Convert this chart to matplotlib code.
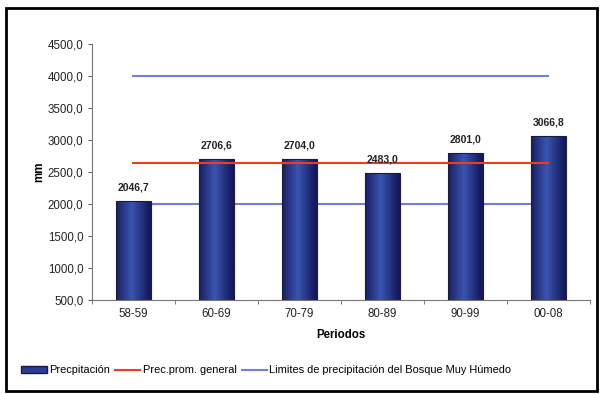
import matplotlib
matplotlib.use("Agg")
import matplotlib.pyplot as plt
import numpy as np
from matplotlib.patches import Rectangle, Patch

categories = ["58-59", "60-69", "70-79", "80-89", "90-99", "00-08"]
precip = [2046.7, 2706.6, 2704.0, 2483.0, 2801.0, 3066.8]
prec_prom = [2634.7] * 6
lim_low = [2000.0] * 6
lim_high = [4000.0] * 6
yticks = [500, 1000, 1500, 2000, 2500, 3000, 3500, 4000, 4500]

plt.rcParams['font.family'] = ['Liberation Sans', 'DejaVu Sans']

fig = plt.figure(figsize=(6, 3.94), dpi=100)
ax = fig.add_axes([0.153, 0.2386, 0.830, 0.6497])

x = np.arange(len(categories))
width = 0.42
ymin = 500
bars = ax.bar(x, np.array(precip) - ymin, bottom=ymin, width=width,
              color='none', edgecolor='#1a1a40', linewidth=0.8, zorder=3)
grad = np.linspace(0, 1, 64)
prof = 1 - np.abs(grad - 0.45) * 2
cmap = matplotlib.colors.LinearSegmentedColormap.from_list(
    'b', ['#141a5c', '#3a55b0'])
img = cmap(np.clip(prof, 0, 1))[None, :, :]
for b in bars:
    bx, by = b.get_x(), b.get_y()
    im = ax.imshow(img, extent=[bx, bx + b.get_width(), by, by + b.get_height()],
                   aspect='auto', zorder=2, interpolation='bilinear')
    im.set_clip_path(b)

l1, = ax.plot(x, prec_prom, color='#f03c1e', lw=1.5, zorder=4)
l2, = ax.plot(x, lim_low, color='#7080d8', lw=1.5, zorder=1)
ax.plot(x, lim_high, color='#7080d8', lw=1.5, zorder=1)

for xi, v in zip(x, precip):
    ax.annotate(f"{v:.1f}".replace('.', ','), (xi, v), xytext=(0, 6),
                textcoords='offset points', ha='center', va='bottom',
                fontsize=7.5, fontweight='bold', color='#222222', zorder=5)

ax.set_xlim(-0.5, len(categories) - 0.5)
ax.set_ylim(500, 4500)
ax.set_yticks(yticks)
ax.set_yticklabels([f"{t:.1f}".replace('.', ',') for t in yticks])
ax.set_xticks(x)
ax.set_xticklabels(categories)
ax.set_xticks(np.arange(len(categories) + 1) - 0.5, minor=True)
ax.tick_params(axis='x', which='major', length=0, pad=6)
ax.tick_params(axis='x', which='minor', length=3, color='#666666')
ax.tick_params(labelsize=8.3, labelcolor='#222222')
ax.tick_params(axis='y', length=3, color='#666666', pad=3)
for s in ['top', 'right']:
    ax.spines[s].set_visible(False)
for s in ['left', 'bottom']:
    ax.spines[s].set_color('#777777')
ax.set_xlabel('Periodos', fontsize=8.3, fontweight='bold', labelpad=6)
ax.set_ylabel('mm', fontsize=8.3, fontweight='bold', labelpad=2)

fig.legend([Patch(facecolor='#2a3c98', edgecolor='#1a1a40'), l1, l2],
           ['Precpitación', 'Prec.prom. general',
            'Limites de precipitación del Bosque Muy Húmedo'],
           loc='center', bbox_to_anchor=(0.444, 0.06), ncol=3, frameon=False,
           fontsize=7.9, handlelength=2.3, handletextpad=0.2, columnspacing=0.5)

fig.patches.append(Rectangle((0.01, 0.0076), 0.985, 0.972, transform=fig.transFigure,
                             fill=False, edgecolor='black', linewidth=2))

fig.savefig('out.png', dpi=100)
